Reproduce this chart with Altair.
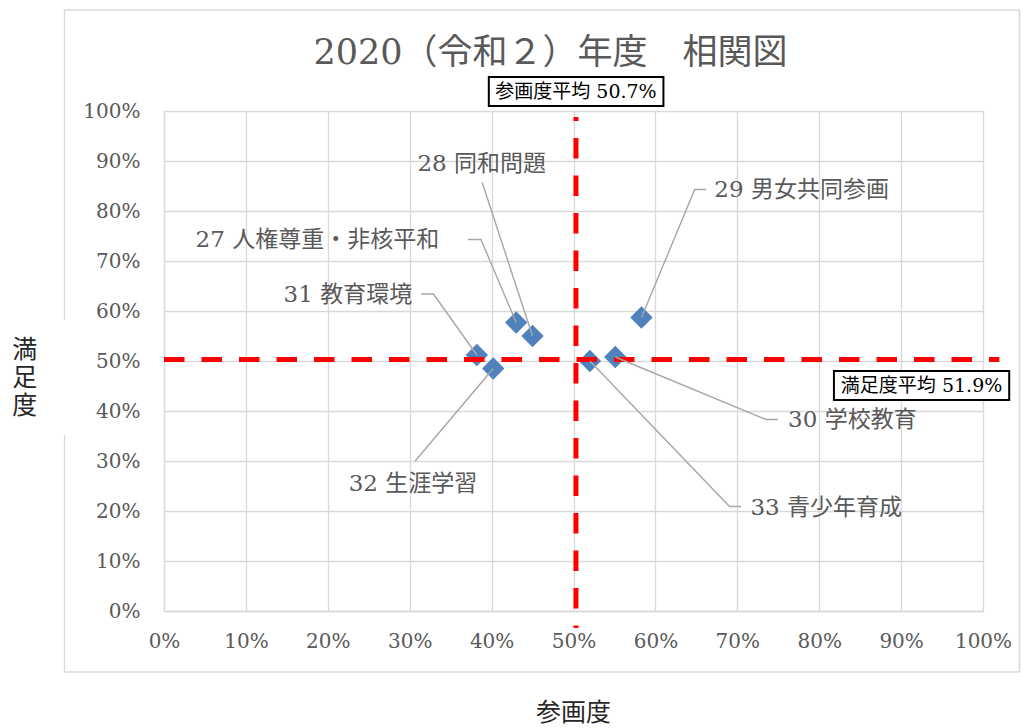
import altair as alt
import pandas as pd

FONT = "DejaVu Serif, Noto Sans CJK JP"
GRAY = "#595959"
GRID = "#D9D9D9"

# ---- data ----
ids = ["27", "28", "29", "30", "31", "32", "33"]
names = ["人権尊重・非核平和", "同和問題", "男女共同参画", "学校教育", "教育環境", "生涯学習", "青少年育成"]
participation = [0.430, 0.450, 0.583, 0.551, 0.382, 0.402, 0.520]   # 参画度
satisfaction = [0.577, 0.550, 0.587, 0.508, 0.512, 0.485, 0.500]    # 満足度

# label anchors (data units) and alignment
label_x = [0.336, 0.388, 0.672, 0.762, 0.303, 0.304, 0.716]
label_y = [0.742, 0.895, 0.843, 0.382, 0.632, 0.255, 0.207]
label_align = ["right", "center", "left", "left", "right", "center", "left"]

# leader lines: start point near label, elbow, then the data point
leader_x0 = [0.371, 0.3885, 0.662, 0.7495, 0.314, 0.3067, 0.7047]
leader_x1 = [0.387, 0.3885, 0.648, 0.735, 0.329, 0.3067, 0.6905]
leader_y = [0.743, 0.857, 0.843, 0.383, 0.634, 0.300, 0.209]

# average reference lines (as drawn) and their labels
avg_participation_line = 0.503
avg_satisfaction_line = 0.503
avg_participation_text = "参画度平均 50.7%"
avg_satisfaction_text = "満足度平均 51.9%"

ticks = [i / 10 for i in range(11)]

title_text = "2020（令和２）年度　相関図"
x_title = "参画度"
y_title = "満\n足\n度"

# ---- tables ----
pts = pd.DataFrame({"id": ids, "name": names, "x": participation, "y": satisfaction})
labels = pd.DataFrame({
    "text": [f"{i} {n}" for i, n in zip(ids, names)],
    "x": label_x, "y": label_y, "align": label_align,
})
rows = []
for k in range(len(ids)):
    rows.append({"id": ids[k], "o": 0, "x": leader_x0[k], "y": leader_y[k]})
    rows.append({"id": ids[k], "o": 1, "x": leader_x1[k], "y": leader_y[k]})
    rows.append({"id": ids[k], "o": 2, "x": participation[k], "y": satisfaction[k]})
leaders = pd.DataFrame(rows)

xs = alt.Scale(domain=[0, 1], nice=False)
ys = alt.Scale(domain=[0, 1], nice=False)

axis_common = dict(
    values=ticks, format=".0%", grid=True, gridColor=GRID, gridWidth=1.3,
    domainColor=GRID, domainWidth=1.3, ticks=False, labelFlush=False,
    labelOverlap=False, labelBound=False,
    labelFont=FONT, labelFontSize=20, labelColor=GRAY, title=None,
)
x_axis = alt.Axis(labelPadding=20, **axis_common)
y_axis = alt.Axis(labelPadding=24, **axis_common)


def X(f="x"):
    return alt.X(f"{f}:Q", scale=xs, axis=x_axis)


def Y(f="y"):
    return alt.Y(f"{f}:Q", scale=ys, axis=y_axis)


# frame
frame_df = pd.DataFrame({
    "x": [-0.1215, 1.0446, -0.1215, -0.1215, -0.1215, 1.0446],
    "x2": [1.0446, 1.0446, 1.0446, -0.1215, -0.1215, 1.0446],
    "y": [1.202, 1.202, -0.122, 1.202, 0.352, 1.202],
    "y2": [1.202, -0.122, -0.122, 0.582, -0.122, -0.122],
})
frame = alt.Chart(frame_df).mark_rule(color=GRID, strokeWidth=1.3).encode(
    x=X(), x2="x2:Q", y=Y(), y2="y2:Q")

points = alt.Chart(pts).mark_point(
    shape="diamond", filled=True, size=500, color="#4F81BD", opacity=1
).encode(x=X(), y=Y())

ref_df_v = pd.DataFrame({"x": [avg_participation_line], "y": [0.988], "y2": [-0.034]})
ref_df_h = pd.DataFrame({"x": [0.0], "x2": [1.02], "y": [avg_satisfaction_line]})
vline = alt.Chart(ref_df_v).mark_rule(
    color="#FF0000", strokeWidth=5, strokeDash=[20.5, 17], strokeDashOffset=16.5
).encode(x=X(), y=Y(), y2="y2:Q")
hline = alt.Chart(ref_df_h).mark_rule(
    color="#FF0000", strokeWidth=5, strokeDash=[20.5, 17]
).encode(x=X(), x2="x2:Q", y=Y())

leader = alt.Chart(leaders).mark_line(color="#A6A6A6", strokeWidth=1.4).encode(
    x=X(), y=Y(), detail="id:N", order="o:Q")

label_layers = []
for al in ["left", "center", "right"]:
    label_layers.append(
        alt.Chart(labels).transform_filter(alt.datum.align == al).mark_text(
            align=al, baseline="middle", font=FONT, fontSize=23, color=GRAY
        ).encode(x=X(), y=Y(), text="text:N")
    )

box_df = pd.DataFrame({
    "x": [0.3966, 0.818], "x2": [0.6098, 1.032],
    "y": [1.010, 0.422], "y2": [1.068, 0.480],
    "tx": [avg_participation_line, 0.925], "ty": [1.039, 0.451],
    "text": [avg_participation_text, avg_satisfaction_text],
})
boxes = alt.Chart(box_df).mark_rect(fill="white", stroke="black", strokeWidth=2).encode(
    x=X(), x2="x2:Q", y=Y(), y2="y2:Q")
box_text = alt.Chart(box_df).mark_text(
    align="center", baseline="middle", font=FONT, fontSize=19, color="black"
).encode(x=X("tx"), y=Y("ty"), text="text:N")

titles_df = pd.DataFrame({
    "x": [0.472, 0.5, -0.170],
    "y": [1.116, -0.203, 0.522],
    "text": [title_text, x_title, y_title],
    "k": ["title", "xt", "yt"],
})
title_mark = alt.Chart(titles_df).transform_filter(alt.datum.k == "title").mark_text(
    align="center", baseline="middle", font=FONT, fontSize=35, color=GRAY
).encode(x=X(), y=Y(), text="text:N")
xt_mark = alt.Chart(titles_df).transform_filter(alt.datum.k == "xt").mark_text(
    align="center", baseline="middle", font=FONT, fontSize=25, color="#262626"
).encode(x=X(), y=Y(), text="text:N")
yt_mark = alt.Chart(titles_df).transform_filter(alt.datum.k == "yt").mark_text(
    align="center", baseline="middle", font=FONT, fontSize=25, color="#262626",
    lineBreak="\n", lineHeight=28
).encode(x=X(), y=Y(), text="text:N")

chart = alt.layer(
    frame, points, hline, vline, leader, *label_layers, boxes, box_text,
    title_mark, xt_mark, yt_mark
).properties(
    width=819, height=500,
    autosize=alt.AutoSizeParams(type="none"),
    padding={"left": 156, "top": 103, "right": 40, "bottom": 116},
    background="white",
).configure_view(strokeWidth=0)

chart.save("out.html", embed_options={"renderer": "svg", "actions": False})
